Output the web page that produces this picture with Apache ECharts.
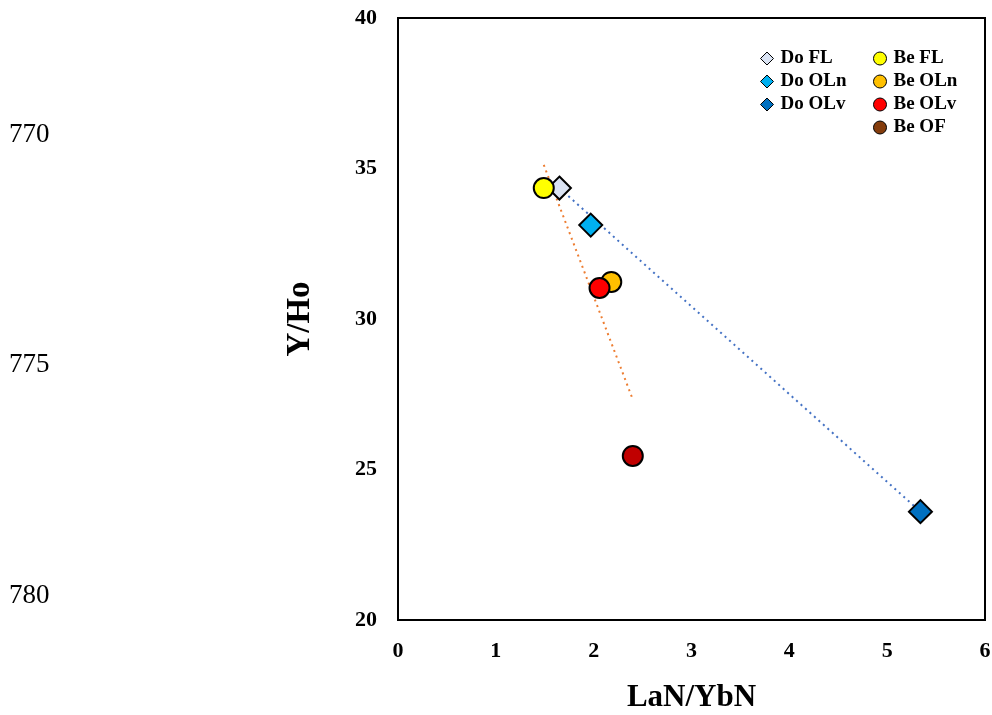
<!DOCTYPE html>
<html>
<head>
<meta charset="utf-8">
<script src="https://cdn.jsdelivr.net/npm/echarts@6/dist/echarts.min.js"></script>
<style>
  html, body { margin: 0; padding: 0; background: #fff; }
  #chart { width: 992px; height: 715px; }
</style>
</head>
<body>
<div id="chart"></div>
<script>
// data
var doFL = [[1.65, 34.35]]
var doOLn = [[1.97, 33.12]]
var doOLv = [[5.34, 23.6]]
var beFL = [[1.49, 34.35]]
var beOLn = [[2.18, 31.23]]
var beOLv = [[2.06, 31.03]]
var beOF = [[2.40, 25.45]]
var doTrend = [[1.65, 34.35], [5.34, 23.6]] // 线性趋势线 Do
var beTrend = [[1.49, 35.12], [2.39, 27.41]] // 线性趋势线 Be
var sideLabels = ['770', '775', '780'] // 左侧残留标签

var serif = '"Liberation Serif", "DejaVu Serif", serif'
var chart = echarts.init(document.getElementById('chart'))

function scat(name, data, symbol, size, color) {
  return {
    name: name,
    type: 'scatter',
    data: data,
    symbol: symbol,
    symbolSize: size,
    z: 5,
    itemStyle: { color: color, borderColor: '#000', borderWidth: 2, opacity: 1 }
  }
}

var legendText = { fontFamily: serif, fontWeight: 'bold', fontSize: 19, color: '#000', padding: [0, 0, 0, 2] }

var option = {
  animation: false,
  backgroundColor: '#fff',
  grid: {
    left: 398, right: 7, top: 18, bottom: 95,
    containLabel: false,
    outerBoundsMode: 'none',
    show: true,
    borderColor: '#000',
    borderWidth: 2
  },
  legend: [{
    orient: 'vertical',
    left: 755,
    top: 44,
    itemWidth: 13,
    itemHeight: 13,
    itemGap: 4,
    textStyle: legendText,
    itemStyle: { borderWidth: 1 },
    data: [
      { name: 'Do FL', icon: 'diamond' },
      { name: 'Do OLn', icon: 'diamond' },
      { name: 'Do OLv', icon: 'diamond' }
    ]
  }, {
    orient: 'vertical',
    left: 868,
    top: 44,
    itemWidth: 13,
    itemHeight: 13,
    itemGap: 4,
    textStyle: legendText,
    itemStyle: { borderWidth: 1 },
    data: [
      { name: 'Be FL', icon: 'circle' },
      { name: 'Be OLn', icon: 'circle' },
      { name: 'Be OLv', icon: 'circle' },
      { name: 'Be OF', icon: 'circle', itemStyle: { color: '#843c0c' } }
    ]
  }],
  xAxis: {
    type: 'value',
    min: 0,
    max: 6,
    interval: 1,
    name: 'LaN/YbN',
    nameLocation: 'middle',
    nameGap: 62,
    nameTextStyle: { fontFamily: serif, fontWeight: 'bold', fontSize: 31, color: '#000' },
    axisLine: { show: false },
    axisTick: { show: false },
    splitLine: { show: false },
    axisLabel: { margin: 20, fontFamily: serif, fontWeight: 'bold', fontSize: 22, color: '#000' }
  },
  yAxis: {
    type: 'value',
    min: 20,
    max: 40,
    interval: 5,
    name: 'Y/Ho',
    nameLocation: 'middle',
    nameGap: 81,
    nameTextStyle: { fontFamily: serif, fontWeight: 'bold', fontSize: 33, color: '#000' },
    axisLine: { show: false },
    axisTick: { show: false },
    splitLine: { show: false },
    axisLabel: { margin: 21, fontFamily: serif, fontWeight: 'bold', fontSize: 22, color: '#000' }
  },
  graphic: sideLabels.map(function (t, i) {
    return {
      type: 'text',
      left: 9,
      top: 121 + i * 230.5,
      style: { text: t, fontFamily: serif, fontSize: 27, fill: '#000' }
    }
  }),
  series: [
    {
      name: 'doTrend',
      type: 'line',
      data: doTrend,
      symbol: 'none',
      z: 3,
      lineStyle: { color: '#4472c4', width: 2, type: [2, 4] }
    },
    {
      name: 'beTrend',
      type: 'line',
      data: beTrend,
      symbol: 'none',
      z: 3,
      lineStyle: { color: '#ed7d31', width: 2, type: [2, 4] }
    },
    scat('Do FL', doFL, 'diamond', 23, '#dae3f3'),
    scat('Do OLn', doOLn, 'diamond', 23, '#00b0f0'),
    scat('Do OLv', doOLv, 'diamond', 23, '#0070c0'),
    scat('Be FL', beFL, 'circle', 20, '#ffff00'),
    scat('Be OLn', beOLn, 'circle', 20, '#ffc000'),
    scat('Be OLv', beOLv, 'circle', 20, '#ff0000'),
    scat('Be OF', beOF, 'circle', 20, '#c00000')
  ]
}

chart.setOption(option)
</script>
</body>
</html>
